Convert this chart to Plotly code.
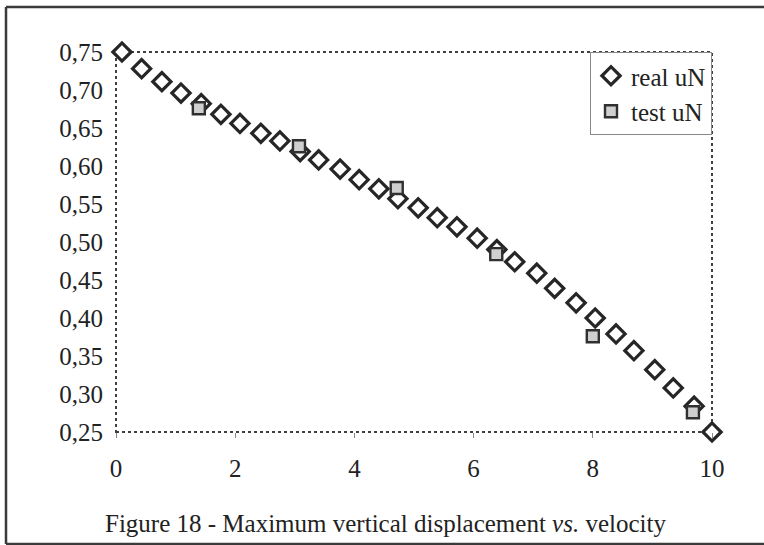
import plotly.graph_objects as go

real_x = [0.10, 0.43, 0.77, 1.09, 1.43, 1.76, 2.08, 2.43, 2.75, 3.09, 3.40, 3.76, 4.08, 4.41, 4.73,
          5.07, 5.39, 5.72, 6.06, 6.39, 6.69, 7.06, 7.36, 7.72, 8.04, 8.39, 8.69, 9.04, 9.35, 9.70, 10.0]
real_y = [0.750, 0.728, 0.711, 0.696, 0.682, 0.668, 0.656, 0.643, 0.633, 0.619, 0.608, 0.596, 0.582, 0.570, 0.557,
          0.545, 0.532, 0.520, 0.505, 0.490, 0.474, 0.459, 0.439, 0.420, 0.400, 0.379, 0.357, 0.332, 0.308, 0.284, 0.250]

test_x = [1.39, 3.07, 4.71, 6.38, 8.00, 9.68]
test_y = [0.676, 0.626, 0.571, 0.484, 0.376, 0.276]

y_ticks = [0.25, 0.30, 0.35, 0.40, 0.45, 0.50, 0.55, 0.60, 0.65, 0.70, 0.75]
x_ticks = [0, 2, 4, 6, 8, 10]

caption = "Figure 18 - Maximum vertical displacement <i>vs.</i> velocity"

FONT = "Liberation Serif, Times New Roman, serif"
W, H = 764, 545
L, R, T, B = 116, 52, 52, 113
pw, ph = W - L - R, H - T - B

def px_to_paper_x(px):
    return (px - L) / pw

def px_to_paper_y(py):
    return (H - B - py) / ph

fig = go.Figure()
fig.add_trace(go.Scatter(
    x=real_x, y=real_y, mode="markers", name="real uN",
    marker=dict(symbol="diamond", size=14, color="white",
                line=dict(color="#262626", width=3.2)),
    cliponaxis=False,
))
fig.add_trace(go.Scatter(
    x=test_x, y=test_y, mode="markers", name="test uN",
    marker=dict(symbol="square", size=12, color="#cfcfcf",
                line=dict(color="#303030", width=2.4)),
    cliponaxis=False,
))

frame_line = dict(color="#3a3a3a", width=2.5)
fx0, fx1 = px_to_paper_x(6), px_to_paper_x(800)
fy0, fy1 = px_to_paper_y(544), px_to_paper_y(7)

fig.update_layout(
    width=W, height=H,
    margin=dict(l=L, r=R, t=T, b=B, pad=0),
    paper_bgcolor="white", plot_bgcolor="white",
    separators=", ",
    font=dict(family=FONT, size=25, color="#222222"),
    showlegend=True,
    legend=dict(x=1, y=1, xanchor="right", yanchor="top",
                bordercolor="#8a8a8a", borderwidth=1, bgcolor="white",
                font=dict(family=FONT, size=25, color="#222222"),
                tracegroupgap=0, itemwidth=30),
    xaxis=dict(range=[0, 10], tickvals=x_ticks, ticktext=[str(v) for v in x_ticks],
               showgrid=False, zeroline=False, showline=False,
               ticks="outside", ticklen=5, tickwidth=1, tickcolor="#888888",
               ticklabelstandoff=9,
               tickfont=dict(family=FONT, size=25, color="#222222")),
    yaxis=dict(range=[0.25, 0.75], tickvals=y_ticks, tickformat=".2f",
               showgrid=False, zeroline=False, showline=False, ticks="",
               ticklabelstandoff=12,
               tickfont=dict(family=FONT, size=25, color="#222222")),
    shapes=[
        dict(type="rect", xref="paper", yref="paper", x0=0, x1=1, y0=0, y1=1,
             line=dict(color="#404040", width=2, dash="dot"), layer="below"),
        dict(type="line", xref="paper", yref="paper", x0=fx0, x1=fx0, y0=fy0, y1=fy1,
             line=frame_line, layer="below"),
        dict(type="line", xref="paper", yref="paper", x0=fx0, x1=fx1, y0=fy1, y1=fy1,
             line=frame_line, layer="below"),
        dict(type="line", xref="paper", yref="paper", x0=fx0, x1=fx1, y0=fy0, y1=fy0,
             line=frame_line, layer="below"),
    ],
    annotations=[
        dict(text=caption, xref="paper", yref="paper",
             x=px_to_paper_x(385), y=px_to_paper_y(523),
             xanchor="center", yanchor="middle", showarrow=False,
             font=dict(family=FONT, size=25, color="#222222")),
    ],
)

fig.write_html("out.html", config={"displayModeBar": False},
               post_script="document.body.style.margin='0';document.body.style.overflow='hidden';")
